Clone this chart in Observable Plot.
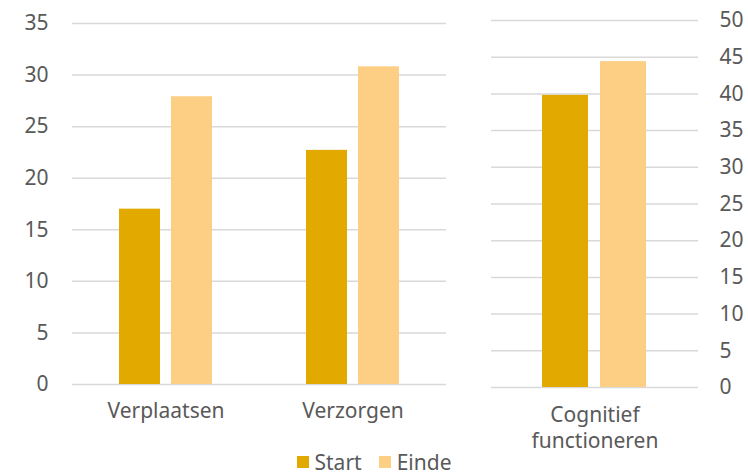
<!DOCTYPE html>
<html>
<head>
<meta charset="utf-8">
<script src="https://cdn.jsdelivr.net/npm/d3@7"></script>
<script src="https://cdn.jsdelivr.net/npm/@observablehq/plot@0.6"></script>
<style>
  html, body { margin: 0; padding: 0; background: #fff; }
  #wrap { position: relative; width: 748px; height: 475px; overflow: hidden; font-family: "Noto Sans", sans-serif; color: #595959; }
  #left { position: absolute; left: 0; top: 0; }
  #right { position: absolute; left: 460px; top: 0; }
  #left svg, #right svg { overflow: visible; }
  #legend { position: absolute; left: 0; width: 748px; top: 450px; display: flex; justify-content: center; gap: 17px; font-size: 21px; line-height: 24px; color: #595959; }
  #legend span.item { display: flex; align-items: center; }
  #legend span.sw { display: inline-block; width: 12px; height: 12px; margin-right: 6px; }
</style>
</head>
<body>
<div id="wrap">
  <div id="left"></div>
  <div id="right"></div>
  <div id="legend"></div>
</div>
<script>
const categoriesLeft = ["Verplaatsen", "Verzorgen"];
const categoriesRight = ["Cognitief\nfunctioneren"];
const series = ["Start", "Einde"];
const startValues = [17.0, 22.7, 39.8];
const eindeValues = [27.9, 30.8, 44.4];
const leftTicks = [0, 5, 10, 15, 20, 25, 30, 35];
const rightTicks = [0, 5, 10, 15, 20, 25, 30, 35, 40, 45, 50];
const colors = ["#E2AA00", "#FDCF85"];

const allCats = categoriesLeft.concat(categoriesRight);
const rows = [];
allCats.forEach((c, i) => {
  rows.push({cat: c, series: "Start", value: startValues[i]});
  rows.push({cat: c, series: "Einde", value: eindeValues[i]});
});
const leftRows = rows.filter(d => categoriesLeft.includes(d.cat));
const rightRows = rows.filter(d => categoriesRight.includes(d.cat));

const font = "Noto Sans";
const fs = 21;
const gridStyle = {stroke: "#d9d9d9", strokeOpacity: 1, strokeWidth: 1.5};

const left = Plot.plot({
  width: 460, height: 430,
  marginLeft: 71, marginRight: 14, marginTop: 23, marginBottom: 46,
  style: {fontFamily: font, fontSize: fs + "px", color: "#595959", background: "transparent", overflow: "visible"},
  fx: {domain: categoriesLeft, padding: 0, axis: null},
  x: {domain: series, paddingInner: 0.2075, paddingOuter: 0.8726, axis: null},
  y: {domain: [0, 35], axis: null},
  color: {domain: series, range: colors},
  marks: [
    Plot.gridY(leftTicks, gridStyle),
    Plot.barY(leftRows, {fx: "cat", x: "series", y: "value", fill: "series"}),
    Plot.axisY(leftTicks, {anchor: "left", tickSize: 0, tickPadding: 24, fontSize: fs, fill: "#595959", label: null}),
    Plot.axisFx({anchor: "bottom", tickSize: 0, tickPadding: 19, fontSize: fs, fill: "#595959", label: null})
  ]
});
document.getElementById("left").appendChild(left);

const right = Plot.plot({
  width: 288, height: 430,
  marginLeft: 31, marginRight: 50, marginTop: 20, marginBottom: 43,
  style: {fontFamily: font, fontSize: fs + "px", color: "#595959", background: "transparent", overflow: "visible"},
  fx: {domain: categoriesRight, padding: 0, axis: null},
  x: {domain: series, paddingInner: 0.2034, paddingOuter: 0.856, axis: null},
  y: {domain: [0, 50], axis: null},
  color: {domain: series, range: colors},
  marks: [
    Plot.gridY(rightTicks, gridStyle),
    Plot.barY(rightRows, {fx: "cat", x: "series", y: "value", fill: "series"}),
    Plot.axisY(rightTicks, {anchor: "right", tickSize: 0, tickPadding: 21, fontSize: fs, fill: "#595959", label: null}),
    Plot.axisFx({anchor: "bottom", tickSize: 0, tickPadding: 17, fontSize: fs, lineHeight: 1.2, fill: "#595959", label: null})
  ]
});
document.getElementById("right").appendChild(right);

const legend = document.getElementById("legend");
series.forEach((s, i) => {
  const item = document.createElement("span");
  item.className = "item";
  const sw = document.createElement("span");
  sw.className = "sw";
  sw.style.background = colors[i];
  item.appendChild(sw);
  item.appendChild(document.createTextNode(s));
  legend.appendChild(item);
});
</script>
</body>
</html>
